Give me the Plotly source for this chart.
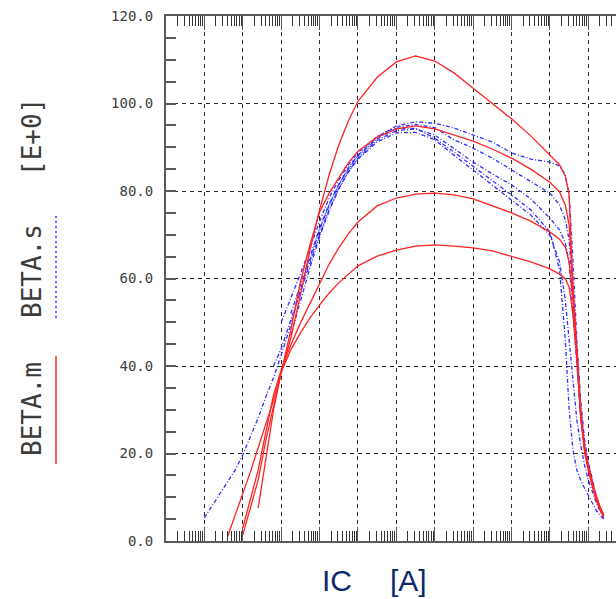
import plotly.graph_objects as go

# Collector current grid [A]
ic = [1.0e-10, 1.78e-10, 3.16e-10, 3.98e-10, 6.31e-10, 1.0e-9, 1.58e-9, 2.51e-9, 3.98e-9, 6.31e-9,
      1.0e-8, 1.78e-8, 3.16e-8, 5.62e-8, 1.0e-7, 1.78e-7, 3.16e-7, 5.62e-7, 1.0e-6, 3.16e-6,
      1.0e-5, 3.16e-5, 1.0e-4, 3.16e-4, 1.0e-3, 3.16e-3, 1.0e-2, 3.16e-2, 0.1, 0.178,
      0.251, 0.316, 0.398, 0.501, 0.631, 0.794, 1.0, 1.26, 1.58, 2.0, 2.51]

N = None
# Measured beta (BETA.m)
beta_m1 = [N, N, N, 0.9, 5.9, 10.5, 15.8, 21.3, 26.5, 32.2, 38.6, 46.4, 56.2, 66.5, 75.7, 83.7, 90.5, 96.0,
           100.5, 106.0, 109.5, 110.9, 109.7, 107.0, 103.5, 99.9, 96.5, 92.6, 88.2, 86.0, 83.4, 79.1, 57.4,
           42.5, 28.8, 21.3, 17.1, 13.5, 10.5, 7.8, 5.9]
beta_m2 = [N, N, N, N, N, 1.4, 7.5, 13.9, 23.0, 31.0, 38.6, 48.2, 59.2, 67.7, 75.2, 79.5, 83.0, 86.4, 89.1,
           92.3, 94.2, 94.9, 94.2, 92.8, 91.4, 89.6, 87.5, 85.0, 82.0, 79.8, 76.8, 72.2, 58.5, 43.7, 29.5,
           21.5, 16.9, 13.3, 10.3, 7.8, 5.9]
beta_m3 = [N, N, N, N, N, 3.0, 9.4, 16.2, 24.9, 33.4, 39.1, 44.8, 49.8, 54.4, 59.0, 63.3, 67.0, 70.2, 72.9,
           76.6, 78.4, 79.3, 79.5, 79.1, 78.2, 76.6, 75.0, 73.1, 70.6, 69.0, 67.2, 63.8, 55.1, 42.5, 28.8,
           20.8, 16.5, 12.8, 9.8, 7.5, 5.7]
beta_m4 = [N, N, N, N, N, N, N, 7.5, 18.5, 29.9, 38.6, 43.7, 47.5, 51.0, 53.9, 56.7, 59.0, 61.0, 62.9,
           65.1, 66.5, 67.4, 67.7, 67.4, 67.0, 66.3, 65.1, 63.8, 62.2, 61.0, 59.9, 58.0, 51.7, 41.4, 28.1,
           20.3, 16.0, 12.3, 9.4, 7.1, 5.5]

# Simulated beta (BETA.s)
beta_s1 = [5.3, 8.7, 12.1, 13.5, 16.2, 19.7, 23.8, 28.1, 32.9, 37.3, 42.5, 49.4, 57.4, 64.2, 71.1, 76.8,
           81.4, 85.3, 88.2, 92.3, 94.9, 95.8, 95.5, 94.4, 92.8, 91.2, 88.7, 87.3, 86.6, 85.7, 83.7, 79.1,
           64.2, 45.9, 32.2, 23.1, 18.1, 13.9, 10.5, 7.8, 5.9]
beta_s2 = [N, N, N, N, N, N, N, N, N, N, 50.0, 55.5, 61.0, 67.0, 73.0, 78.5, 82.5, 86.0, 88.8, 92.5, 94.6,
           95.2, 94.5, 91.7, 89.8, 87.5, 84.8, 82.3, 79.5, 76.8, 73.4, 68.8, 57.4, 44.0, 31.0, 22.5, 17.5,
           13.5, 10.3, 7.6, 5.8]
beta_s3 = [N, N, N, N, N, N, N, N, N, N, N, 47.0, 55.0, 62.5, 69.5, 75.5, 80.5, 84.5, 87.5, 91.6, 93.8,
           94.2, 92.8, 89.8, 86.6, 83.9, 81.4, 78.2, 73.8, 71.1, 68.1, 63.8, 52.8, 40.0, 29.0, 21.5, 16.8,
           13.0, 10.0, 7.4, 5.6]
beta_s4 = [N, N, N, N, N, N, N, N, N, 40.0, 44.0, 50.5, 57.0, 63.5, 70.0, 75.8, 80.5, 84.3, 87.3, 91.2,
           93.3, 93.4, 91.7, 88.2, 84.8, 81.4, 77.9, 74.5, 69.9, 63.8, 55.1, 45.9, 36.8, 27.7, 21.9, 17.4,
           13.9, 11.2, 8.9, 6.9, 5.3]
beta_s5 = [N, N, N, N, N, N, N, N, N, N, N, 52.0, 58.5, 65.0, 71.5, 77.0, 81.5, 85.0, 88.0, 92.0, 94.3,
           94.3, 92.1, 88.9, 85.7, 82.5, 79.1, 75.7, 70.6, 62.0, 46.0, 30.0, 20.8, 16.2, 13.9, 12.1, 10.3,
           8.7, 7.1, 5.9, 5.0]

y_ticks = [0, 20, 40, 60, 80, 100, 120]
y_ticktext = ["0.0", "20.0", "40.0", "60.0", "80.0", "100.0", "120.0"]

RED = "#ff2424"
BLUE = "#2f2fff"
GRID = "#2a2a2a"
AXC = "#5a5a5a"
TXT = "#3c3c3c"
MONO = "DejaVu Sans Mono, Liberation Mono, monospace"

fig = go.Figure()
for b in [beta_s1, beta_s2, beta_s3, beta_s4, beta_s5]:
    fig.add_trace(go.Scatter(x=ic, y=b, mode="lines", line=dict(color=BLUE, width=1.3, dash="4px,2px,1px,2px"),
                             showlegend=False, hoverinfo="skip"))
for b in [beta_m1, beta_m2, beta_m3, beta_m4]:
    fig.add_trace(go.Scatter(x=ic, y=b, mode="lines", line=dict(color=RED, width=1.3),
                             showlegend=False, hoverinfo="skip"))

L, T, B = 166, 16, 58
W, H = 616, 599
pw, ph = W - L, H - T - B

def px2paper_x(px):
    return (px - L) / pw

def px2paper_y(py):
    return (H - B - py) / ph

fig.update_layout(
    width=W, height=H,
    margin=dict(l=L, r=0, t=T, b=B, pad=0),
    paper_bgcolor="white", plot_bgcolor="white",
    showlegend=False,
    xaxis=dict(type="log", range=[-11, 0.72], dtick=1, showticklabels=False,
               showgrid=True, gridcolor=GRID, gridwidth=1, griddash="4px,4px",
               ticks="inside", ticklen=14, tickcolor=AXC, tickwidth=1,
               minor=dict(ticks="inside", ticklen=10, tickcolor="#333", tickwidth=1, dtick="D1", showgrid=False),
               showline=True, linecolor=AXC, linewidth=2, mirror="allticks", zeroline=False),
    yaxis=dict(range=[0, 120], tickvals=y_ticks, ticktext=y_ticktext,
               showgrid=True, gridcolor=GRID, gridwidth=1, griddash="4px,4px",
               ticks="inside", ticklen=10, tickcolor=AXC, tickwidth=1.5,
               minor=dict(ticks="inside", ticklen=10, tickcolor=AXC, tickwidth=1.5, dtick=5, showgrid=False),
               showline=True, linecolor=AXC, linewidth=2, mirror=False, zeroline=False,
               tickfont=dict(family=MONO, size=14, color=TXT), ticklabelstandoff=8),
)

# Rotated legend
for txt, cy in [("BETA.m", 409), ("BETA.s", 271), ("[E+0]", 137)]:
    fig.add_annotation(text=txt, x=px2paper_x(32), y=px2paper_y(cy), xref="paper", yref="paper",
                       textangle=-90, showarrow=False, xanchor="center", yanchor="middle",
                       font=dict(family=MONO, size=26, color=TXT))
fig.add_shape(type="line", xref="paper", yref="paper", x0=px2paper_x(56), x1=px2paper_x(56),
              y0=px2paper_y(356), y1=px2paper_y(464), line=dict(color=RED, width=1.5))
fig.add_shape(type="line", xref="paper", yref="paper", x0=px2paper_x(56), x1=px2paper_x(56),
              y0=px2paper_y(216), y1=px2paper_y(320), line=dict(color=BLUE, width=1.5, dash="2px,3px"))

# X axis title
NAVY = "#0d2a6c"
for txt, cx in [("IC", 337), ("[A]", 408)]:
    fig.add_annotation(text=txt, x=px2paper_x(cx), y=px2paper_y(580), xref="paper", yref="paper",
                       showarrow=False, xanchor="center", yanchor="middle",
                       font=dict(family="Liberation Sans, Arial, sans-serif", size=30, color=NAVY))

fig.write_html("out.html", config={"displayModeBar": False},
               post_script="document.body.style.margin='0';document.body.style.overflow='hidden';")
